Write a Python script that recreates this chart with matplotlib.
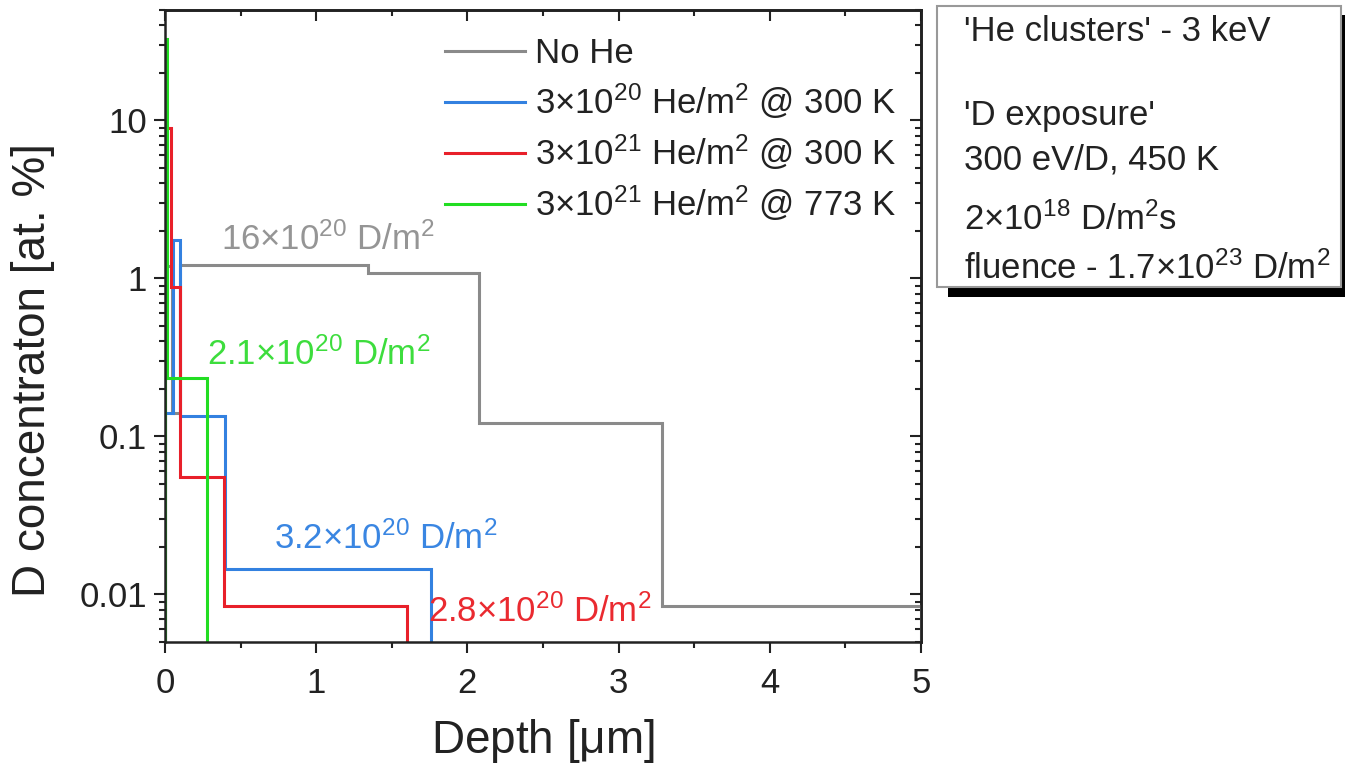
import matplotlib
matplotlib.use("Agg")
import matplotlib.pyplot as plt
from matplotlib.patches import Rectangle
from matplotlib.ticker import MultipleLocator, LogLocator, FuncFormatter, NullFormatter

plt.rcParams['font.family'] = ['Liberation Sans', 'DejaVu Sans']
plt.rcParams['mathtext.fontset'] = 'custom'
plt.rcParams['mathtext.rm'] = 'Liberation Sans'
plt.rcParams['mathtext.it'] = 'Liberation Sans'
plt.rcParams['mathtext.default'] = 'regular'

# ---- data (depth in um, D concentration in at.%) ----
nohe_edges = [0.0, 0.045, 0.10, 1.34, 2.08, 3.29, 5.0]
nohe_vals = [1.2, 0.14, 1.21, 1.08, 0.122, 0.0085]

he20_300_edges = [0.0, 0.05, 0.10, 0.40, 1.76]
he20_300_vals = [0.14, 1.74, 0.135, 0.0145]

he21_300_edges = [0.0, 0.04, 0.10, 0.39, 1.60]
he21_300_vals = [8.9, 0.88, 0.055, 0.0085]

he21_773_edges = [0.0, 0.012, 0.28]
he21_773_vals = [33.0, 0.235]

labels = ['No He',
          r'3$\times$10$^{20}$ He/m$^{2}$ @ 300 K',
          r'3$\times$10$^{21}$ He/m$^{2}$ @ 300 K',
          r'3$\times$10$^{21}$ He/m$^{2}$ @ 773 K']
colors = ['#8a8a8a', '#3381e0', '#e8202a', '#22dd22']

retained = [r'16$\times$10$^{20}$ D/m$^{2}$', r'3.2$\times$10$^{20}$ D/m$^{2}$',
            r'2.8$\times$10$^{20}$ D/m$^{2}$', r'2.1$\times$10$^{20}$ D/m$^{2}$']
label_pos = [(0.37, 1.75), (0.72, 0.0225), (1.74, 0.0078), (0.28, 0.33)]
label_colors = ['#959595', '#3a86e2', '#ea2a30', '#3ddd3d']

info_lines = ["'He clusters' - 3 keV", "'D exposure'", "300 eV/D, 450 K",
              r"2$\times$10$^{18}$ D/m$^{2}$s",
              r"fluence - 1.7$\times$10$^{23}$ D/m$^{2}$"]
info_baseline_px = [41, 125, 169, 230, 279]

xlim = (0, 5)
ylim = (0.005, 50)

W, H = 1345, 773
fig = plt.figure(figsize=(W / 100, H / 100), dpi=100)
ax = fig.add_axes([165 / W, 1 - 642 / H, (921 - 165) / W, (642 - 10) / H])

series = [(nohe_edges, nohe_vals), (he20_300_edges, he20_300_vals),
          (he21_300_edges, he21_300_vals), (he21_773_edges, he21_773_vals)]
handles = []
for (e, v), c, lab in zip(series, colors, labels):
    ax.stairs(v, e, baseline=ylim[0] / 10, color=c, linewidth=2.2)
    handles.append(plt.Line2D([], [], color=c, linewidth=2.2, label=lab))

ax.set_yscale('log')
ax.set_xlim(*xlim)
ax.set_ylim(*ylim)

for (t, (x, y), c) in zip(retained, label_pos, label_colors):
    ax.text(x, y, t, color=c, fontsize=25, ha='left', va='center', zorder=5)

ax.xaxis.set_major_locator(MultipleLocator(1))
ax.xaxis.set_minor_locator(MultipleLocator(0.5))
ax.yaxis.set_major_locator(LogLocator(base=10, numticks=10))
ax.yaxis.set_minor_locator(LogLocator(base=10, subs=range(2, 10), numticks=20))
ax.yaxis.set_major_formatter(FuncFormatter(lambda v, p: ('%g' % v)))
ax.yaxis.set_minor_formatter(NullFormatter())

ax.tick_params(which='both', direction='out', top=False, right=False, width=1.5,
               labelsize=25, colors='#222222', labelcolor='#222222')
ax.tick_params(which='major', length=8)
ax.tick_params(axis='x', which='major', pad=10)
ax.tick_params(axis='y', which='major', pad=5)
ax.tick_params(which='minor', length=4.5)
for s in ax.spines.values():
    s.set_linewidth(1.8)
    s.set_color('#222222')

sx = ax.secondary_xaxis('top')
sx.xaxis.set_major_locator(MultipleLocator(1))
sx.xaxis.set_minor_locator(MultipleLocator(0.5))
sx.tick_params(which='both', direction='in', labeltop=False, width=1.5, colors='#222222')
sx.tick_params(which='major', length=8)
sx.tick_params(which='minor', length=4.5)
sx.spines['top'].set_linewidth(1.8)

sy = ax.secondary_yaxis('right')
sy.yaxis.set_major_locator(LogLocator(base=10, numticks=10))
sy.yaxis.set_minor_locator(LogLocator(base=10, subs=range(2, 10), numticks=20))
sy.yaxis.set_minor_formatter(NullFormatter())
sy.tick_params(which='both', direction='in', labelright=False, width=1.5, colors='#222222')
sy.tick_params(which='major', length=8)
sy.tick_params(which='minor', length=4.5)
sy.spines['right'].set_linewidth(1.8)

ax.set_xlabel(r'Depth [$\mu$m]', fontsize=33, color='#222222')
ax.xaxis.set_label_coords(0.5, -0.118)
ax.set_ylabel('D concentraton [at. %]', fontsize=33, color='#222222')
ax.yaxis.set_label_coords(-0.145, 0.43)

leg = ax.legend(handles=handles, loc='upper left', bbox_to_anchor=(0.343, 0.99),
                frameon=False, fontsize=25, handlelength=2.3, handletextpad=0.3,
                labelspacing=0.33, borderaxespad=0.2)
for t in leg.get_texts():
    t.set_color('#222222')

# info box with shadow
fig.patches.append(Rectangle((948 / W, 1 - 297 / H), (1345 - 948) / W, (297 - 15) / H,
                             transform=fig.transFigure, facecolor='black',
                             edgecolor='none', zorder=1))
fig.patches.append(Rectangle((937 / W, 1 - 287 / H), (1341 - 937) / W, (287 - 6) / H,
                             transform=fig.transFigure, facecolor='white',
                             edgecolor='#999999', linewidth=1.5, zorder=2))
for line, yb in zip(info_lines, info_baseline_px):
    fig.text(964 / W, 1 - yb / H, line, fontsize=25, color='#222222',
             ha='left', va='baseline', zorder=3)

fig.savefig('out.png', dpi=100)
